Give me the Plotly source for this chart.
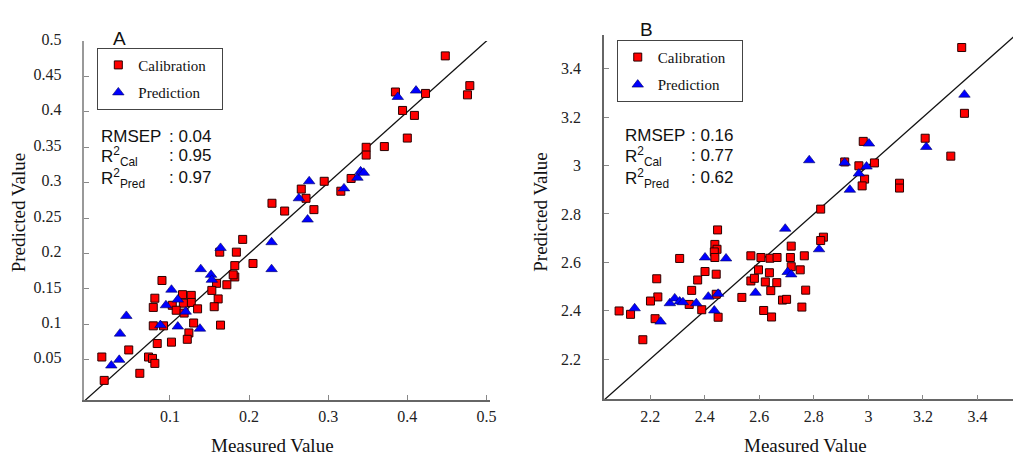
import plotly.graph_objects as go

W, H = 1020, 455

# ---------------- Data: panel A ----------------
a_cal_x = [0.192, 0.184, 0.163, 0.205, 0.182, 0.182, 0.180, 0.172, 0.159, 0.153, 0.161, 0.156, 0.164,
           0.090, 0.081, 0.079, 0.116, 0.127, 0.127, 0.103, 0.117, 0.108, 0.118, 0.135, 0.079, 0.092,
           0.130, 0.124, 0.122, 0.102, 0.084, 0.048, 0.014, 0.073, 0.078, 0.081, 0.062, 0.017,
           0.448, 0.479, 0.476, 0.423, 0.385, 0.394, 0.409, 0.400, 0.371, 0.348, 0.348, 0.329, 0.316,
           0.295, 0.266, 0.272, 0.229, 0.245, 0.282]
a_cal_y = [0.220, 0.202, 0.202, 0.186, 0.183, 0.167, 0.170, 0.156, 0.158, 0.148, 0.136, 0.125, 0.099,
           0.162, 0.137, 0.124, 0.142, 0.141, 0.131, 0.127, 0.130, 0.120, 0.116, 0.122, 0.098, 0.098,
           0.102, 0.088, 0.079, 0.075, 0.073, 0.064, 0.054, 0.054, 0.052, 0.045, 0.031, 0.021,
           0.479, 0.437, 0.424, 0.426, 0.428, 0.402, 0.395, 0.363, 0.351, 0.350, 0.339, 0.306, 0.288,
           0.302, 0.291, 0.278, 0.271, 0.260, 0.262]
a_pred_x = [0.164, 0.139, 0.152, 0.153, 0.102, 0.110, 0.095, 0.120, 0.088, 0.110, 0.138, 0.045, 0.037,
            0.036, 0.026, 0.2285, 0.2285, 0.411, 0.388, 0.337, 0.341, 0.345, 0.320, 0.276, 0.263, 0.274]
a_pred_y = [0.208, 0.178, 0.170, 0.163, 0.149, 0.135, 0.127, 0.118, 0.099, 0.097, 0.094, 0.112, 0.087,
            0.050, 0.042, 0.178, 0.216, 0.430, 0.421, 0.307, 0.316, 0.314, 0.292, 0.302, 0.278, 0.248]

a_ticks = [0.05, 0.1, 0.15, 0.2, 0.25, 0.3, 0.35, 0.4, 0.45, 0.5]
a_ticktext = ["0.05", "0.1", "0.15", "0.2", "0.25", "0.3", "0.35", "0.4", "0.45", "0.5"]
a_xticks = [0.1, 0.2, 0.3, 0.4, 0.5]
a_xticktext = ["0.1", "0.2", "0.3", "0.4", "0.5"]
a_xrange = [-0.008, 0.504]
a_yrange = [-0.007, 0.5]
a_stats = [("RMSEP", ": 0.04"), ("R<sup>2</sup><sub>Cal</sub>", ": 0.95"), ("R<sup>2</sup><sub>Pred</sub>", ": 0.97")]

# ---------------- Data: panel B ----------------
b_cal_x = [2.447, 2.437, 2.445, 2.435, 2.437, 2.308, 2.401, 2.442, 2.224, 2.374, 2.352, 2.228, 2.201,
           2.442, 2.343, 2.389, 2.086, 2.128, 2.218, 2.449, 2.173,
           2.825, 2.835, 2.825, 2.717, 2.569, 2.606, 2.639, 2.665, 2.714, 2.765, 2.597, 2.717, 2.750,
           2.637, 2.569, 2.582, 2.622, 2.664, 2.642, 2.770, 2.536, 2.685, 2.700, 2.756, 2.616, 2.645,
           3.342, 3.352, 3.208, 3.302, 2.981, 2.913, 2.965, 3.022, 2.986, 2.977, 3.114, 3.114]
b_cal_y = [2.734, 2.674, 2.654, 2.643, 2.620, 2.616, 2.562, 2.551, 2.532, 2.527, 2.484, 2.457, 2.440,
           2.468, 2.426, 2.404, 2.399, 2.385, 2.367, 2.373, 2.280,
           2.820, 2.704, 2.690, 2.667, 2.627, 2.620, 2.617, 2.620, 2.620, 2.627, 2.569, 2.582, 2.569,
           2.557, 2.523, 2.534, 2.519, 2.516, 2.483, 2.485, 2.455, 2.444, 2.447, 2.415, 2.401, 2.374,
           3.488, 3.216, 3.113, 3.039, 3.100, 3.015, 2.999, 3.011, 2.944, 2.916, 2.927, 2.907]
b_pred_x = [2.401, 2.478, 2.143, 2.238, 2.272, 2.290, 2.308, 2.320, 2.369, 2.413, 2.449, 2.435,
            2.695, 2.819, 2.704, 2.717, 2.586,
            3.352, 3.212, 3.002, 2.913, 2.993, 2.965, 2.932, 2.783]
b_pred_y = [2.620, 2.616, 2.410, 2.355, 2.431, 2.451, 2.438, 2.435, 2.431, 2.458, 2.470, 2.401,
            2.739, 2.654, 2.560, 2.550, 2.474,
            3.293, 3.077, 3.091, 3.012, 2.996, 2.967, 2.900, 3.022]

b_ticks = [2.2, 2.4, 2.6, 2.8, 3.0, 3.2, 3.4]
b_ticktext = ["2.2", "2.4", "2.6", "2.8", "3", "3.2", "3.4"]
b_xrange = [2.03, 3.53]
b_yrange = [2.034, 3.54]
b_stats = [("RMSEP", ": 0.16"), ("R<sup>2</sup><sub>Cal</sub>", ": 0.77"), ("R<sup>2</sup><sub>Pred</sub>", ": 0.62")]

series_names = ["Calibration", "Prediction"]

# ---------------- Figure ----------------
SERIF = "Liberation Serif, Times New Roman, serif"
SANS = "Liberation Sans, Arial, sans-serif"
RED = "#ff0000"
BLUE = "#0000ff"
PAD = "\u00a0\u00a0\u00a0"

def px(x):
    return x / W

def py(y):
    return 1 - y / H

fig = go.Figure()

def add_panel(cx, cy, pxs, pys, xr, yr, xa, ya, leg):
    lo = min(xr[0], yr[0])
    hi = max(xr[1], yr[1])
    fig.add_trace(go.Scatter(x=[lo, hi], y=[lo, hi], mode="lines", showlegend=False,
                             line=dict(color="#111111", width=1.3), xaxis=xa, yaxis=ya, hoverinfo="skip"))
    fig.add_trace(go.Scatter(x=cx, y=cy, mode="markers", name=series_names[0] + PAD, legend=leg,
                             legendgroup=leg + "c",
                             marker=dict(symbol="square", size=8, color=RED,
                                         line=dict(color="#2a0000", width=1)),
                             xaxis=xa, yaxis=ya))
    fig.add_trace(go.Scatter(x=pxs, y=pys, mode="markers", name=series_names[1] + PAD, legend=leg,
                             legendgroup=leg + "p",
                             marker=dict(symbol="triangle-up", size=10, color=BLUE,
                                         line=dict(color="#000060", width=0.6)),
                             xaxis=xa, yaxis=ya))

add_panel(a_cal_x, a_cal_y, a_pred_x, a_pred_y, a_xrange, a_yrange, "x", "y", "legend")
add_panel(b_cal_x, b_cal_y, b_pred_x, b_pred_y, b_xrange, b_yrange, "x2", "y2", "legend2")

def axis(domain, rng, tv, tt, anchor, lc, standoff, shift=0):
    return dict(domain=domain, range=rng, tickvals=tv, ticktext=tt, anchor=anchor,
                ticks="inside", ticklen=5, tickwidth=1.2, tickcolor="#888888",
                showline=True, linecolor=lc, linewidth=1.5, showgrid=False, zeroline=False,
                tickfont=dict(family=SERIF, size=16, color="#222222"),
                ticklabelstandoff=standoff, ticklabelshift=shift, fixedrange=True)

layout_axes = dict(
    xaxis=axis([px(85), px(493)], a_xrange, a_xticks, a_xticktext, "y", "#666666", 1),
    yaxis=axis([py(399), py(31.7)], a_yrange, a_ticks, a_ticktext, "x", "#999999", 18, -2),
    xaxis2=axis([px(608), 1.0], b_xrange, b_ticks, b_ticktext, "y2", "#666666", 2),
    yaxis2=axis([py(398), py(25.5)], b_yrange, b_ticks, b_ticktext, "x2", "#666666", 18),
)

leg_style = dict(font=dict(family=SERIF, size=15, color="#111111"), bordercolor="#444444",
                 borderwidth=1, bgcolor="white", xanchor="left", yanchor="top",
                 traceorder="grouped", tracegroupgap=5)

annotations = []

def add_text(x, y, text, size, family, xanchor="left", yanchor="middle"):
    annotations.append(dict(x=px(x), y=py(y), xref="paper", yref="paper", text=text, showarrow=False,
                            xanchor=xanchor, yanchor=yanchor,
                            font=dict(family=family, size=size, color="#111111")))

# panel letters
add_text(120, 29, "A", 19, SANS, "center")
add_text(651, 20, "B", 19, SANS, "center")

# stats
for (lab, val), yy in zip(a_stats, [129, 150, 172]):
    add_text(100, yy, lab, 17, SANS)
    add_text(168, 129 if lab == "RMSEP" else yy - 1, val, 17, SANS)
for (lab, val), yy in zip(b_stats, [128, 150, 172]):
    add_text(627, yy, lab, 17, SANS)
    add_text(694, 128 if lab == "RMSEP" else yy - 1, val, 17, SANS)

# axis titles
add_text(274, 445, "Measured Value", 19, SERIF, "center")
add_text(811, 445, "Measured Value", 19, SERIF, "center")
for xx in (19, 544):
    annotations.append(dict(x=px(xx), y=py(207), xref="paper", yref="paper", text="Predicted Value",
                            showarrow=False, textangle=-90, xanchor="center", yanchor="middle",
                            font=dict(family=SERIF, size=19, color="#111111")))

fig.update_layout(
    width=W, height=H,
    margin=dict(l=0, r=0, t=0, b=0),
    paper_bgcolor="white", plot_bgcolor="white",
    legend=dict(x=px(98), y=py(38.5), **leg_style),
    legend2=dict(x=px(621), y=py(30.5), **leg_style),
    annotations=annotations,
    **layout_axes,
)

fig.write_html("out.html", config={"displayModeBar": False},
               post_script="document.body.style.margin='0px';")
